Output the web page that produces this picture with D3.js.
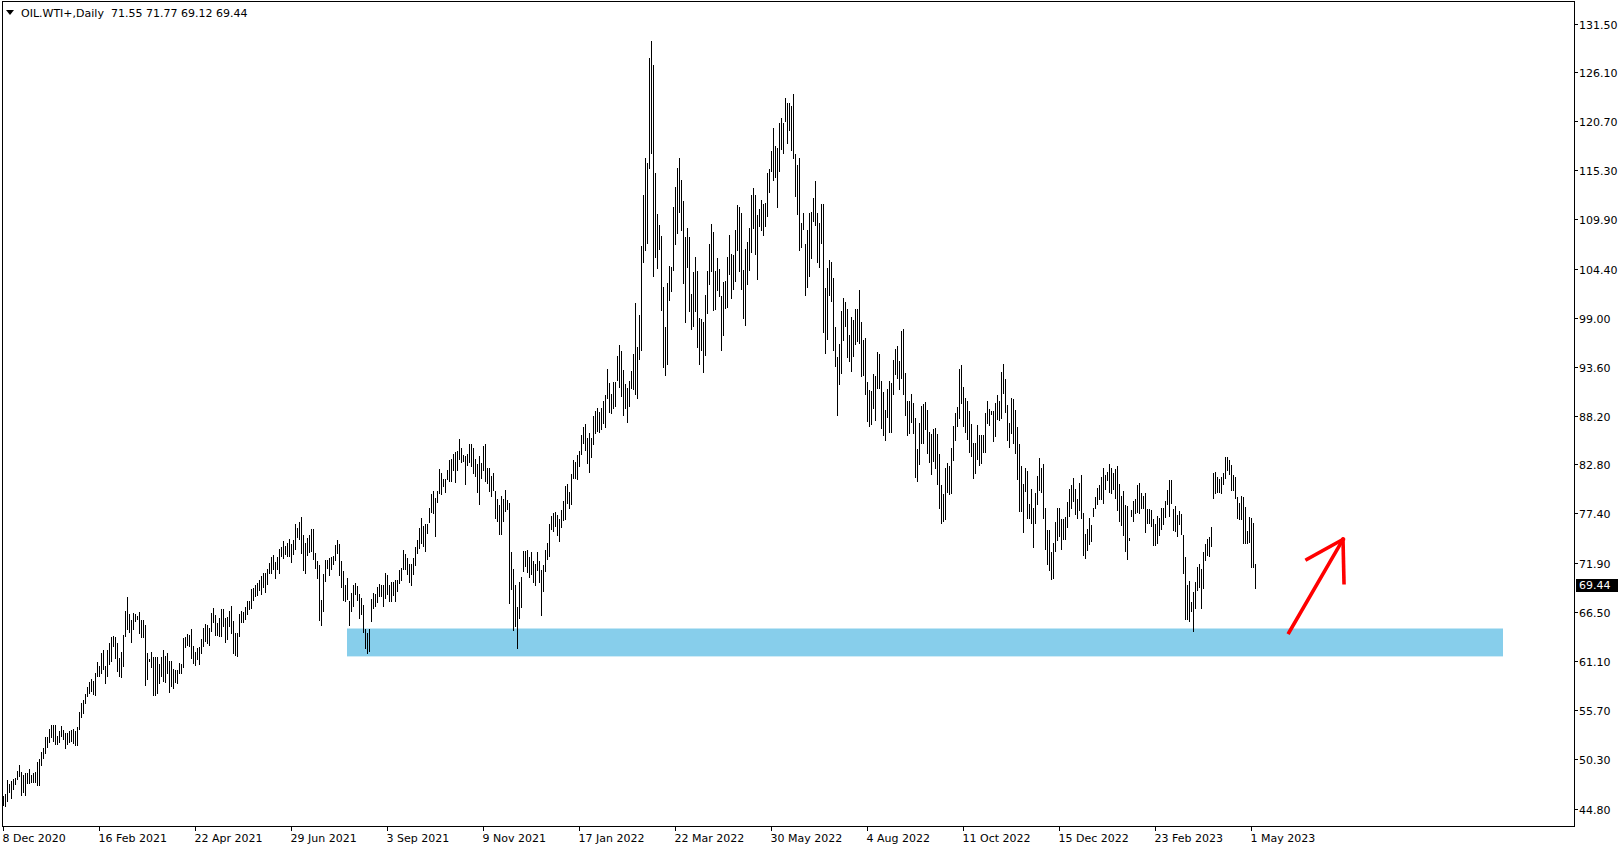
<!DOCTYPE html>
<html><head><meta charset="utf-8">
<script src="https://cdn.jsdelivr.net/npm/d3@7"></script>
<style>
body{margin:0;background:#fff}
svg{display:block}
text{font-family:"DejaVu Sans","Liberation Sans",Arial,sans-serif;font-size:11px;fill:#000}
</style>
</head><body>
<svg id="chart" width="1624" height="850"></svg>
<script>
// ---- Data (daily bars) ----
const symbol = "OIL.WTI+,Daily";
const lastBar = [71.55, 71.77, 69.12, 69.44]; // O H L C

const highs = [
46.17,46.42,47.90,47.53,47.82,48.01,48.19,48.93,49.55,48.82,
48.52,48.74,48.74,49.11,48.52,48.74,48.82,49.96,50.29,51.06,
51.50,52.72,52.72,53.60,54.04,53.97,54.04,52.79,53.31,53.90,
53.46,53.16,53.16,53.38,53.46,53.60,53.38,53.79,55.41,56.40,
56.73,57.40,58.24,58.72,59.05,58.87,59.79,60.93,60.52,61.92,
62.36,60.52,62.36,63.10,63.73,63.84,63.73,63.03,61.41,62.14,
63.91,66.56,68.11,66.30,65.60,66.34,66.27,66.05,66.49,65.60,
65.60,65.02,61.92,61.33,62.11,61.48,61.48,61.48,60.75,61.52,
62.36,61.63,61.92,61.04,61.04,60.16,60.08,60.08,60.89,60.78,
63.65,63.73,64.06,63.95,64.57,62.73,62.07,62.51,62.62,63.47,
64.72,65.13,65.02,64.72,66.41,66.89,66.12,65.31,65.86,66.78,
66.78,65.86,65.97,66.63,67.15,65.46,64.21,64.21,66.23,66.60,
66.52,67.00,67.67,67.70,
68.99,69.10,69.51,69.73,70.09,70.46,70.76,70.76,71.27,71.86,
72.60,72.82,72.01,72.60,73.41,73.63,74.37,73.78,74.14,74.62,
73.96,74.40,76.24,75.80,76.46,77.02,75.06,74.14,74.70,75.06,
75.62,75.62,73.04,72.19,71.68,67.78,70.65,72.23,72.23,72.45,
72.56,72.67,73.85,74.40,74.03,72.12,71.02,69.51,70.28,67.67,
68.62,69.47,69.73,69.36,68.44,68.07,67.33,64.68,64.21,64.65,
67.89,68.62,68.44,69.21,69.62,69.43,69.43,70.76,70.61,69.43,
69.87,69.87,70.02,70.09,71.13,71.35,73.33,72.86,72.52,71.82,
71.82,72.49,73.70,74.44,75.80,76.83,75.98,76.24,76.24,77.97,
79.59,79.89,79.04,79.92,82.32,81.87,81.21,81.14,82.17,83.27,
83.35,83.90,84.16,84.30,85.56,84.60,83.86,83.72,83.90,85.04,
85.04,84.63,83.42,82.83,83.72,82.98,84.82,85.11,82.43,82.43,
81.51,81.87,79.85,79.00,78.27,79.30,78.93,80.03,78.86,78.56,
73.12,71.30,69.50,67.00,69.80,70.41,73.24,73.24,73.40,72.54,
73.12,72.16,71.77,73.12,72.16,71.19,71.69,73.32,74.09,76.22,
77.08,77.46,77.58,77.19,76.73,77.77,78.74,80.41,80.60,79.71,
81.72,83.27,83.08,83.89,84.28,86.10,86.88,87.26,85.71,86.22,
85.71,88.11,88.69,89.01,88.62,89.08,89.86,90.48,93.34,91.79,
90.63,91.91,91.91,94.74,95.98,95.28,93.19,91.64,91.25,91.99,
93.07,95.01,
100.63,95.78,99.27,106.90,112.56,116.59,116.12,127.66,129.56,126.97,
114.96,110.43,109.23,107.99,102.45,98.03,102.87,104.77,104.58,111.20,
113.41,115.54,116.70,114.18,111.94,107.91,108.88,107.91,101.60,104.00,
105.66,104.11,98.96,98.81,98.50,101.52,104.11,107.13,109.34,108.45,
104.11,105.55,104.38,101.40,102.95,103.07,105.74,108.10,106.05,105.97,
108.68,111.40,111.20,110.58,104.31,106.55,107.41,108.88,
112.51,113.28,112.51,110.30,111.04,111.96,111.52,111.70,114.94,115.38,
117.41,119.98,117.96,117.77,120.53,121.01,120.46,123.22,122.74,122.74,
122.37,123.74,117.04,115.82,116.67,109.42,110.60,107.10,108.68,110.60,
110.67,112.25,114.09,110.52,109.49,111.52,111.52,102.24,104.52,105.33,
105.15,103.42,98.01,94.66,96.13,99.74,101.13,100.77,99.92,97.05,
99.11,98.74,99.92,99.92,102.05,98.52,96.50,96.72,91.93,91.01,
90.90,92.74,92.56,95.21,94.95,92.01,90.79,88.77,91.16,92.01,
91.75,94.29,95.58,95.87,94.21,97.53,97.71,92.85,89.80,89.80,
90.53,89.61,87.96,84.46,87.41,89.25,89.43,89.72,88.77,86.37,
86.12,86.74,86.78,86.12,83.98,80.50,79.50,82.43,82.99,82.62,
84.64,87.04,88.51,89.17,93.37,93.74,91.38,90.17,89.80,88.69,
87.22,85.19,85.12,87.18,86.00,86.00,86.08,88.51,89.80,88.88,
88.69,88.69,89.54,90.42,89.80,
93.00,93.84,92.26,89.32,87.40,90.16,89.98,88.76,86.96,85.01,
82.62,80.59,82.43,82.06,78.38,80.04,77.94,79.67,81.51,83.46,
82.36,82.80,78.01,75.51,75.51,73.12,74.08,76.47,77.94,77.94,
76.73,76.73,77.02,78.68,80.04,80.48,81.25,80.04,78.93,80.70,
81.59,77.46,75.14,75.62,76.84,76.10,77.94,79.23,80.19,80.48,
81.40,82.43,81.59,81.99,82.80,82.43,81.81,82.25,82.62,80.59,
79.30,79.82,78.27,78.20,74.63,77.72,78.75,78.93,80.48,80.70,
79.67,79.30,79.67,77.90,77.83,
77.75,76.79,76.17,77.09,76.91,77.94,77.94,78.75,80.03,81.03,
81.03,77.83,78.19,77.27,77.64,77.38,75.06,72.56,69.43,69.91,
67.63,68.73,69.84,71.49,71.75,71.27,73.15,74.03,74.59,74.77,
75.87,81.87,81.95,81.40,81.14,81.36,81.87,83.64,83.57,83.27,
82.79,81.58,81.36,79.19,78.49,79.30,79.19,78.05,75.43,77.02,
76.83,76.28,71.77
];

const lows = [
45.14,45.06,45.61,46.61,45.98,46.90,47.46,48.01,48.38,46.28,
46.65,46.28,47.64,47.57,47.75,47.71,47.71,47.35,47.38,49.59,
50.40,50.95,51.54,52.17,52.72,52.28,51.95,51.87,52.17,52.79,
52.50,51.47,51.91,52.17,52.20,51.98,51.84,51.80,53.57,54.93,
55.37,56.48,57.21,57.58,57.73,57.40,57.32,59.42,59.42,59.79,
60.16,58.68,59.42,60.75,61.04,62.73,61.44,59.94,59.42,59.35,
60.52,63.84,64.65,64.32,63.17,64.65,65.49,65.68,64.21,63.76,
63.76,58.43,59.05,61.08,60.41,57.32,57.32,57.51,58.68,59.42,
58.87,58.72,59.79,57.65,58.31,58.06,58.79,58.68,59.79,59.79,
60.41,62.59,62.88,62.73,61.44,60.89,60.67,61.26,60.75,61.92,
62.73,63.29,63.10,62.88,64.39,65.38,63.98,63.98,63.84,63.84,
64.94,63.17,63.54,64.94,64.13,61.92,61.74,61.63,63.84,65.42,
65.35,65.68,66.23,66.78,
66.89,67.78,68.25,68.36,68.88,68.51,69.21,68.70,69.65,70.83,
70.79,71.20,70.28,71.20,70.79,72.67,72.45,72.86,72.67,72.67,
72.01,72.86,73.41,74.77,74.51,73.04,71.09,70.83,72.75,73.15,
73.19,72.38,71.38,70.28,65.57,65.05,66.60,69.91,71.38,70.61,
71.20,71.75,72.30,72.97,70.54,69.25,67.78,67.67,67.89,65.12,
66.60,67.15,68.44,67.81,65.86,66.23,64.32,62.51,62.00,62.18,
65.49,66.97,67.15,67.59,68.25,68.25,67.15,68.07,68.51,67.70,
67.67,68.36,67.70,68.81,69.73,70.09,71.27,71.27,70.65,69.80,
69.43,70.72,71.64,72.97,73.59,74.14,73.78,73.22,75.25,76.43,
77.53,77.46,74.95,78.64,79.67,79.59,80.40,79.81,81.14,80.95,
80.99,82.24,80.84,82.24,83.35,83.05,83.16,80.59,82.79,83.05,
82.68,81.87,81.51,79.74,78.38,81.32,82.24,80.95,80.77,79.85,
79.30,80.03,76.90,76.54,75.14,75.14,76.54,77.71,77.83,67.52,
69.00,64.50,65.00,62.50,65.80,67.00,71.00,71.57,70.88,70.41,
70.72,69.80,69.50,71.19,69.80,66.20,68.80,71.00,72.35,72.74,
75.64,75.45,76.03,75.06,74.37,75.84,76.61,76.80,78.55,77.97,
78.47,81.34,81.26,81.18,82.62,83.97,85.13,84.36,82.92,81.96,
83.58,85.05,86.29,86.49,86.41,86.68,87.38,86.88,90.17,88.54,
88.50,89.01,89.20,92.11,91.33,90.36,88.31,89.08,87.53,89.20,
91.25,91.14,
90.55,90.17,94.43,95.40,105.20,106.44,107.21,115.54,117.17,103.61,
105.66,104.50,106.63,99.85,93.58,92.68,93.85,100.94,101.98,104.31,
107.13,108.37,110.70,108.68,102.87,98.57,104.58,99.73,97.80,98.11,
99.73,95.78,93.93,95.40,92.99,94.89,99.54,102.76,104.11,99.85,
99.93,102.10,101.40,95.40,97.14,100.05,100.24,103.80,101.21,102.18,
103.03,106.51,104.11,102.18,99.00,98.19,102.76,104.31,
106.25,108.94,105.99,103.23,109.12,108.68,108.17,109.12,110.23,112.88,
115.20,114.20,114.53,111.22,115.20,117.59,117.15,120.72,118.33,119.69,
117.52,116.60,112.44,110.41,106.47,106.84,108.83,101.47,102.39,103.60,
105.55,109.68,109.23,105.15,104.59,107.21,97.45,95.06,96.61,101.47,
100.84,95.43,93.66,88.25,91.71,92.93,96.53,98.08,94.66,94.21,
93.11,94.77,96.05,96.42,96.24,92.56,92.63,90.53,87.59,87.04,
87.29,88.99,87.70,91.27,91.27,86.85,86.01,85.49,88.07,86.37,
86.37,90.53,92.74,92.37,91.08,92.37,90.53,88.21,86.04,86.30,
87.48,86.30,81.44,81.00,82.80,85.12,85.19,86.74,84.09,83.06,
81.70,83.17,82.43,80.60,78.00,76.30,76.50,76.80,79.80,79.50,
79.60,83.24,85.45,87.04,87.96,89.54,87.04,86.37,85.56,84.20,
83.72,81.33,81.88,83.35,82.73,82.99,84.16,84.16,87.33,87.15,
88.32,85.38,85.93,87.77,87.70,
87.95,90.71,88.62,85.49,84.71,86.30,85.19,84.09,81.14,77.65,
77.65,75.33,79.85,76.91,76.91,76.36,73.67,76.36,78.38,79.97,
79.74,76.91,73.49,71.83,71.13,70.17,70.25,73.23,74.50,74.94,
73.49,74.59,74.59,75.88,77.09,78.01,78.75,77.35,76.91,77.76,
76.91,72.79,72.49,73.34,73.96,74.33,77.09,78.01,78.38,78.93,
79.01,78.57,80.04,81.03,79.74,79.60,80.04,79.08,77.76,76.54,
76.10,75.03,73.23,72.38,74.44,77.09,76.54,77.46,77.54,77.46,
78.01,78.01,75.33,76.36,76.36,
75.98,73.89,73.89,74.14,74.99,75.62,76.17,77.02,78.38,77.09,
78.49,75.54,75.43,74.88,76.17,75.17,70.83,65.68,65.68,65.49,
66.60,64.39,66.97,68.92,69.29,66.97,69.17,72.23,72.75,72.67,
73.78,79.04,79.67,79.74,79.74,79.67,80.59,81.32,82.17,81.76,
80.03,79.96,79.11,76.90,76.72,76.79,74.07,74.07,74.07,74.22,
71.46,71.46,69.12
];

const timeTickBars   = [0,48,96,144,192,240,288,336,384,432,480,528,576,624];
const timeTickLabels = ["8 Dec 2020","16 Feb 2021","22 Apr 2021","29 Jun 2021","3 Sep 2021",
  "9 Nov 2021","17 Jan 2022","22 Mar 2022","30 May 2022","4 Aug 2022","11 Oct 2022",
  "15 Dec 2022","23 Feb 2023","1 May 2023"];
const priceTicks = [131.5,126.1,120.7,115.3,109.9,104.4,99.0,93.6,88.2,82.8,77.4,71.9,66.5,61.1,55.7,50.3,44.8];

// drawn objects (anchored on bar index / price)
const zoneBars   = [172, 750];
const zonePrices = [61.6, 64.68];
const arrowShaft = [[643, 64.24], [670, 74.52]];
const arrowLeft  = [[652, 72.31], [670, 74.52]];
const arrowRight = [[670, 74.52], [670.5, 69.73]];

// ---- Layout ----
const W = 1624, H = 850;
const plotL = 2, plotR = 1574, plotT = 1, plotB = 826;
const svg = d3.select("#chart");
svg.append("rect").attr("width", W).attr("height", H).attr("fill", "#fff");

const x = d3.scaleLinear().domain([0, 786]).range([3, 1575]);
const y = d3.scaleLinear().domain([44.8, 131.5]).range([808.5, 23.5]);

svg.append("clipPath").attr("id","plotclip").append("rect")
  .attr("x", plotL).attr("y", plotT).attr("width", plotR - plotL).attr("height", plotB - plotT);
const plot = svg.append("g").attr("clip-path","url(#plotclip)");

// support zone
plot.append("rect")
  .attr("x", x(zoneBars[0])).attr("width", x(zoneBars[1]) - x(zoneBars[0]))
  .attr("y", y(zonePrices[1])).attr("height", y(zonePrices[0]) - y(zonePrices[1]))
  .attr("fill", "#87CEEB");

// bars
plot.append("g").attr("shape-rendering","crispEdges")
  .selectAll("line").data(highs.map((h,i)=>({i, h, l: lows[i]})))
  .join("line")
  .attr("x1", d => Math.round(x(d.i)) + 0.5).attr("x2", d => Math.round(x(d.i)) + 0.5)
  .attr("y1", d => Math.round(y(d.h))).attr("y2", d => Math.round(y(d.l)) + 1)
  .attr("stroke", "#000").attr("stroke-width", 1);

// red arrow
const lineGen = d3.line().x(d => x(d[0])).y(d => y(d[1]));
[arrowShaft, arrowLeft, arrowRight].forEach(seg => {
  plot.append("path").attr("d", lineGen(seg)).attr("fill","none")
    .attr("stroke", "#ff0000").attr("stroke-width", 3.6).attr("stroke-linecap","square");
});

// frame
svg.append("rect").attr("x", plotL + 0.5).attr("y", plotT + 0.5)
  .attr("width", plotR - plotL).attr("height", plotB - plotT)
  .attr("fill","none").attr("stroke","#000").attr("stroke-width",1).attr("shape-rendering","crispEdges");

// price axis
const pa = svg.append("g").attr("shape-rendering","crispEdges");
priceTicks.forEach(v => {
  const yy = Math.round(y(v)) + 0.5;
  pa.append("line").attr("x1", plotR + 0.5).attr("x2", plotR + 4).attr("y1", yy).attr("y2", yy).attr("stroke","#000");
  pa.append("text").attr("x", 1579).attr("y", yy + 4).text(v.toFixed(2));
});

// last price label
const lastY = Math.round(y(lastBar[3]));
svg.append("rect").attr("x", 1576).attr("y", lastY - 6).attr("width", 42).attr("height", 13).attr("fill","#000");
svg.append("text").attr("x", 1579).attr("y", lastY + 4).style("fill","#fff").text(lastBar[3].toFixed(2));

// time axis
const ta = svg.append("g").attr("shape-rendering","crispEdges");
timeTickBars.forEach((b, k) => {
  const xx = Math.round(x(b)) + 0.5;
  ta.append("line").attr("x1", xx).attr("x2", xx).attr("y1", plotB + 0.5).attr("y2", plotB + 5).attr("stroke","#000");
  ta.append("text").attr("x", xx - 1).attr("y", 842).text(timeTickLabels[k]);
});

// header
svg.append("path").attr("d","M6,10 L14,10 L10,15 Z").attr("fill","#000");
svg.append("text").attr("x", 21).attr("y", 17).text(symbol);
svg.append("text").attr("x", 111).attr("y", 17).text(lastBar.map(v => v.toFixed(2)).join(" "));
</script>
</body></html>
